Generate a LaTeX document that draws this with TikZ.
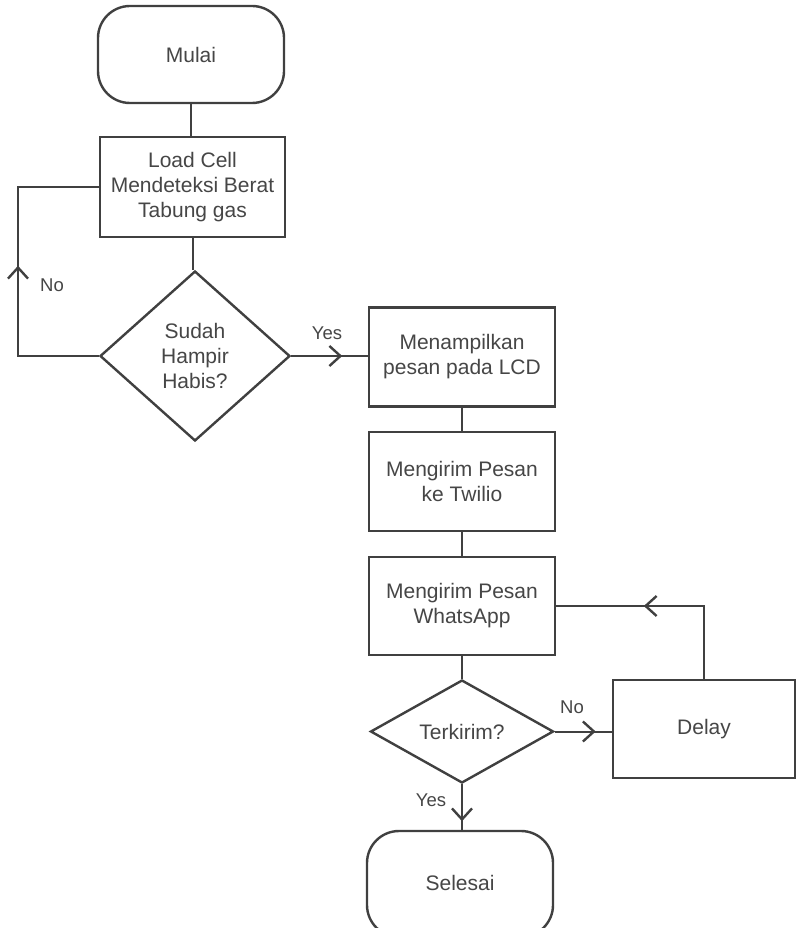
\documentclass[tikz,border=0pt]{standalone}
\usepackage{fontspec}
\setmainfont{Liberation Sans}
\usetikzlibrary{shapes.geometric,arrows.meta,decorations.markings}
\definecolor{ln}{RGB}{64,64,64}
\definecolor{tx}{RGB}{70,70,70}
\tikzset{
  base/.style={draw=ln,line width=2.4pt,text=tx,align=center,inner sep=0pt,
    font=\fontsize{21}{25}\selectfont},
  term/.style={base,minimum width=186pt,minimum height=97pt,rounded corners=32pt},
  proc/.style={base,minimum width=186pt,minimum height=99pt},
  dec/.style={base,diamond},
  conn/.style={draw=ln,line width=2pt},
  midarr/.style={postaction={decorate},decoration={markings,
    mark=at position #1 with {\arrow{Straight Barb[length=11pt,width=20pt,line width=2.4pt]}}}},
  lbl/.style={text=tx,font=\fontsize{18.5}{22}\selectfont,inner sep=0pt}
}
\begin{document}
\begin{tikzpicture}[x=1pt,y=-1pt]
\clip (0,0) rectangle (796,928);
\useasboundingbox (0,0) rectangle (796,928);
\fill[white] (0,0) rectangle (796,928);
\node[term] (start) at (191,54.5) {Mulai};
\node[proc,minimum width=185pt,minimum height=100pt] (load) at (192.5,187) {Load Cell\\Mendeteksi Berat\\Tabung gas};
\node[dec,minimum width=190pt,minimum height=170pt] (d1) at (195,356) {Sudah\\Hampir\\Habis?};
\node[proc] (lcd) at (462,357) {Menampilkan\\pesan pada LCD};
\node[proc] (twl) at (462,481.5) {Mengirim Pesan\\ke Twilio};
\node[proc,minimum height=98pt] (wa) at (462,606) {Mengirim Pesan\\WhatsApp};
\node[dec,minimum width=183pt,minimum height=103pt] (d2) at (462,731.5) {Terkirim?};
\node[proc,minimum width=182pt,minimum height=98pt] (delay) at (704,729) {Delay};
\node[term,minimum height=106pt,text depth=0pt] (end) at (460,884) {\raisebox{2pt}{Selesai}};
\coordinate (loopx) at (18,0);
% connectors
\draw[conn] (start.south) -- (load.north -| start.south);
\draw[conn] (load.south) -- (d1.north -| load.south);
\draw[conn,midarr=171pt] (d1.west) -- (d1.west -| loopx) |- (load.west);
\draw[conn,midarr=51pt] (d1.east) -- (d1.east -| lcd.west);
\draw[conn] (lcd.south) -- (twl.north);
\draw[conn] (twl.south) -- (wa.north);
\draw[conn] (wa.south) -- (d2.north);
\draw[conn,midarr=41pt] (d2.east) -- (d2.east -| delay.west);
\draw[conn,midarr=133pt] (delay.north) |- (wa.east);
\draw[conn,midarr=37pt] (d2.south) -- (end.north -| d2.south);
% labels
\node[lbl] (lno1) at (52,285) {No};
\node[lbl] (lyes1) at (327,333) {Yes};
\node[lbl] (lno2) at (572,707) {No};
\node[lbl] (lyes2) at (431,800) {Yes};
\end{tikzpicture}
\end{document}
